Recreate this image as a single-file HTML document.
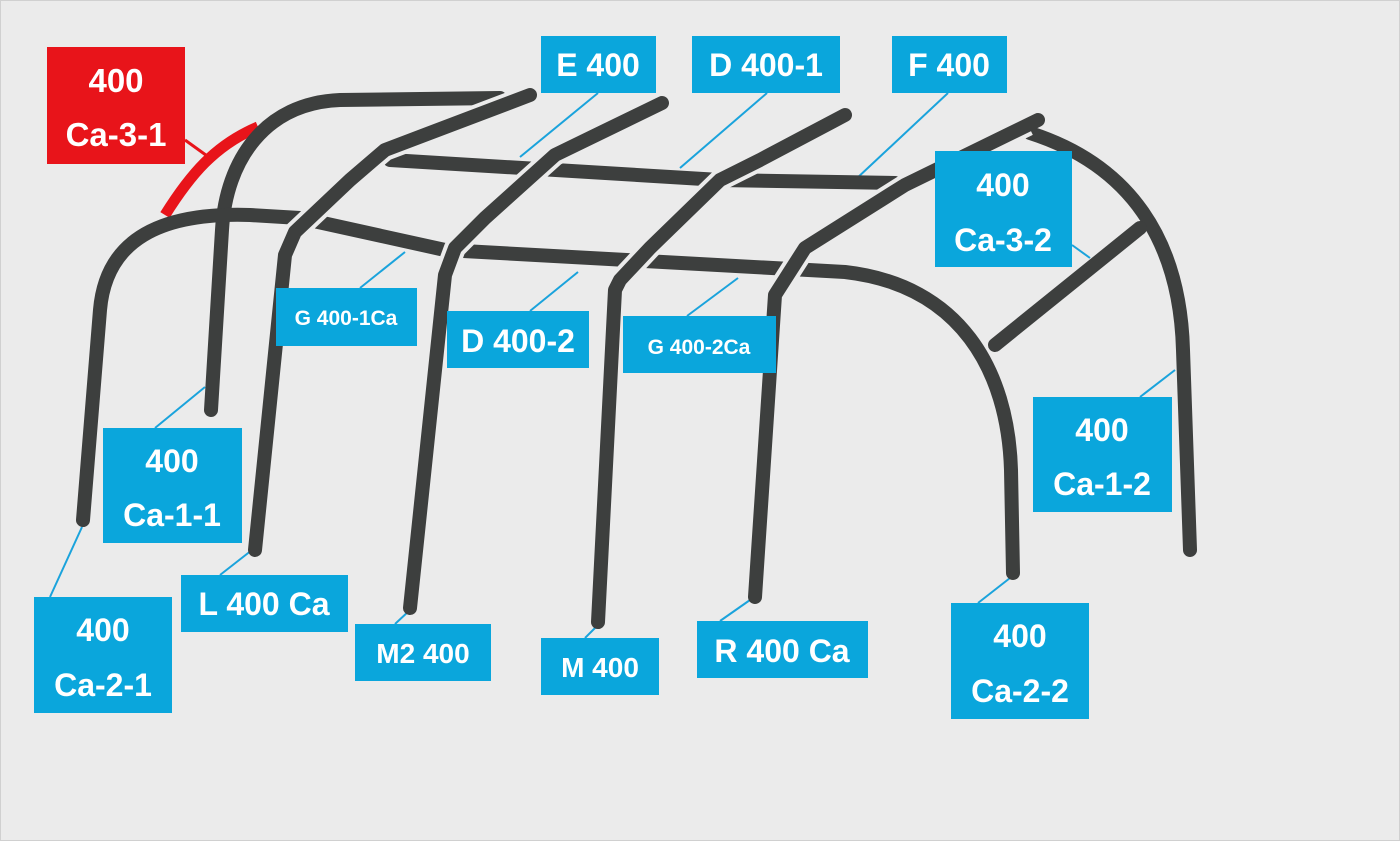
<!DOCTYPE html>
<html><head><meta charset="utf-8"><style>
html,body{margin:0;padding:0;background:#ebebeb;}
svg{display:block;}
text{font-family:"Liberation Sans",sans-serif;font-weight:bold;fill:#fff;text-anchor:middle;}
</style></head><body>
<svg width="1400" height="841" viewBox="0 0 1400 841">
<rect x="0.5" y="0.5" width="1399" height="840" fill="#ebebeb" stroke="#d0d0d0"/>
<g stroke="#1aa3dc" stroke-width="2" fill="none">
<line x1="598" y1="93" x2="520" y2="157"/>
<line x1="767" y1="93" x2="680" y2="168"/>
<line x1="948" y1="93" x2="855" y2="180"/>
<line x1="1072" y1="245" x2="1090" y2="258"/>
<line x1="360" y1="288" x2="405" y2="252"/>
<line x1="530" y1="311" x2="578" y2="272"/>
<line x1="687" y1="316" x2="738" y2="278"/>
<line x1="155" y1="428" x2="205" y2="387"/>
<line x1="1140" y1="397" x2="1175" y2="370"/>
<line x1="50" y1="597" x2="82" y2="527"/>
<line x1="220" y1="575" x2="252" y2="550"/>
<line x1="395" y1="624" x2="410" y2="610"/>
<line x1="585" y1="638" x2="598" y2="625"/>
<line x1="720" y1="621" x2="750" y2="600"/>
<line x1="978" y1="603" x2="1010" y2="578"/>
</g>
<line x1="185" y1="140" x2="210" y2="158" stroke="#e8141a" stroke-width="3"/>
<path d="M165,215 C190,175 215,145 258,127" stroke="#e8141a" stroke-width="11" fill="none"/>
<g stroke="#3d3f3e" stroke-width="14" fill="none" stroke-linecap="round" stroke-linejoin="round">
<path d="M211,410 L222,230 C226,160 265,103 340,100 L500,98"/>
<path d="M390,160 L720,180 L895,183"/>
<path d="M83,520 L100,310 C106,240 160,212 250,215 L300,218 L445,250 L845,272 C960,285 1008,370 1011,470 L1013,573"/>
<path d="M1030,133 C1130,165 1180,240 1183,350 L1190,550"/>
<path d="M995,345 L1140,228"/>
</g>
<g stroke="#ebebeb" stroke-width="22" fill="none" stroke-linecap="butt" stroke-linejoin="round">
<path d="M283,275 L285,255 L295,232 L350,180 L385,150 L520,99"/>
<path d="M443,295 L445,275 L455,248 L485,218 L555,155 L652,108"/>
<path d="M613,310 L615,290 L620,280 L650,248 L720,180 L760,160 L835,120"/>
<path d="M774,315 L775,295 L805,248 L905,185 L1028,125"/>
</g>
<g stroke="#3d3f3e" stroke-width="14" fill="none" stroke-linecap="round" stroke-linejoin="round">
<path d="M255,550 L285,255 L295,232 L350,180 L385,150 L530,95"/>
<path d="M410,608 L445,275 L455,248 L485,218 L555,155 L662,103"/>
<path d="M598,622 L615,290 L620,280 L650,248 L720,180 L760,160 L845,115"/>
<path d="M755,597 L775,295 L805,248 L905,185 L1038,120"/>
</g>
<rect x="47" y="47" width="138" height="117" fill="#e8141a"/>
<text x="116" y="92" font-size="33">400</text><text x="116" y="146" font-size="33">Ca-3-1</text>
<g fill="#0aa6dc">
<rect x="541" y="36" width="115" height="57"/><rect x="692" y="36" width="148" height="57"/>
<rect x="892" y="36" width="115" height="57"/><rect x="935" y="151" width="137" height="116"/>
<rect x="276" y="288" width="141" height="58"/><rect x="447" y="311" width="142" height="57"/>
<rect x="623" y="316" width="153" height="57"/><rect x="103" y="428" width="139" height="115"/>
<rect x="1033" y="397" width="139" height="115"/><rect x="34" y="597" width="138" height="116"/>
<rect x="181" y="575" width="167" height="57"/><rect x="355" y="624" width="136" height="57"/>
<rect x="541" y="638" width="118" height="57"/><rect x="697" y="621" width="171" height="57"/>
<rect x="951" y="603" width="138" height="116"/>
</g>
<g font-size="32">
<text x="598" y="76">E 400</text><text x="766" y="76">D 400-1</text><text x="949" y="76">F 400</text>
<text x="1003" y="196">400</text><text x="1003" y="251">Ca-3-2</text>
<text x="518" y="352">D 400-2</text>
<text x="172" y="472">400</text><text x="172" y="526">Ca-1-1</text>
<text x="1102" y="441">400</text><text x="1102" y="495">Ca-1-2</text>
<text x="103" y="641">400</text><text x="103" y="696">Ca-2-1</text>
<text x="264" y="615">L 400 Ca</text>
<text x="1020" y="647">400</text><text x="1020" y="702">Ca-2-2</text>
<text x="782" y="662">R 400 Ca</text>
</g>
<g font-size="28">
<text x="423" y="663">M2 400</text><text x="600" y="677">M 400</text>
</g>
<g font-size="21">
<text x="346" y="325">G 400-1Ca</text><text x="699" y="354">G 400-2Ca</text>
</g>
</svg>
</body></html>
